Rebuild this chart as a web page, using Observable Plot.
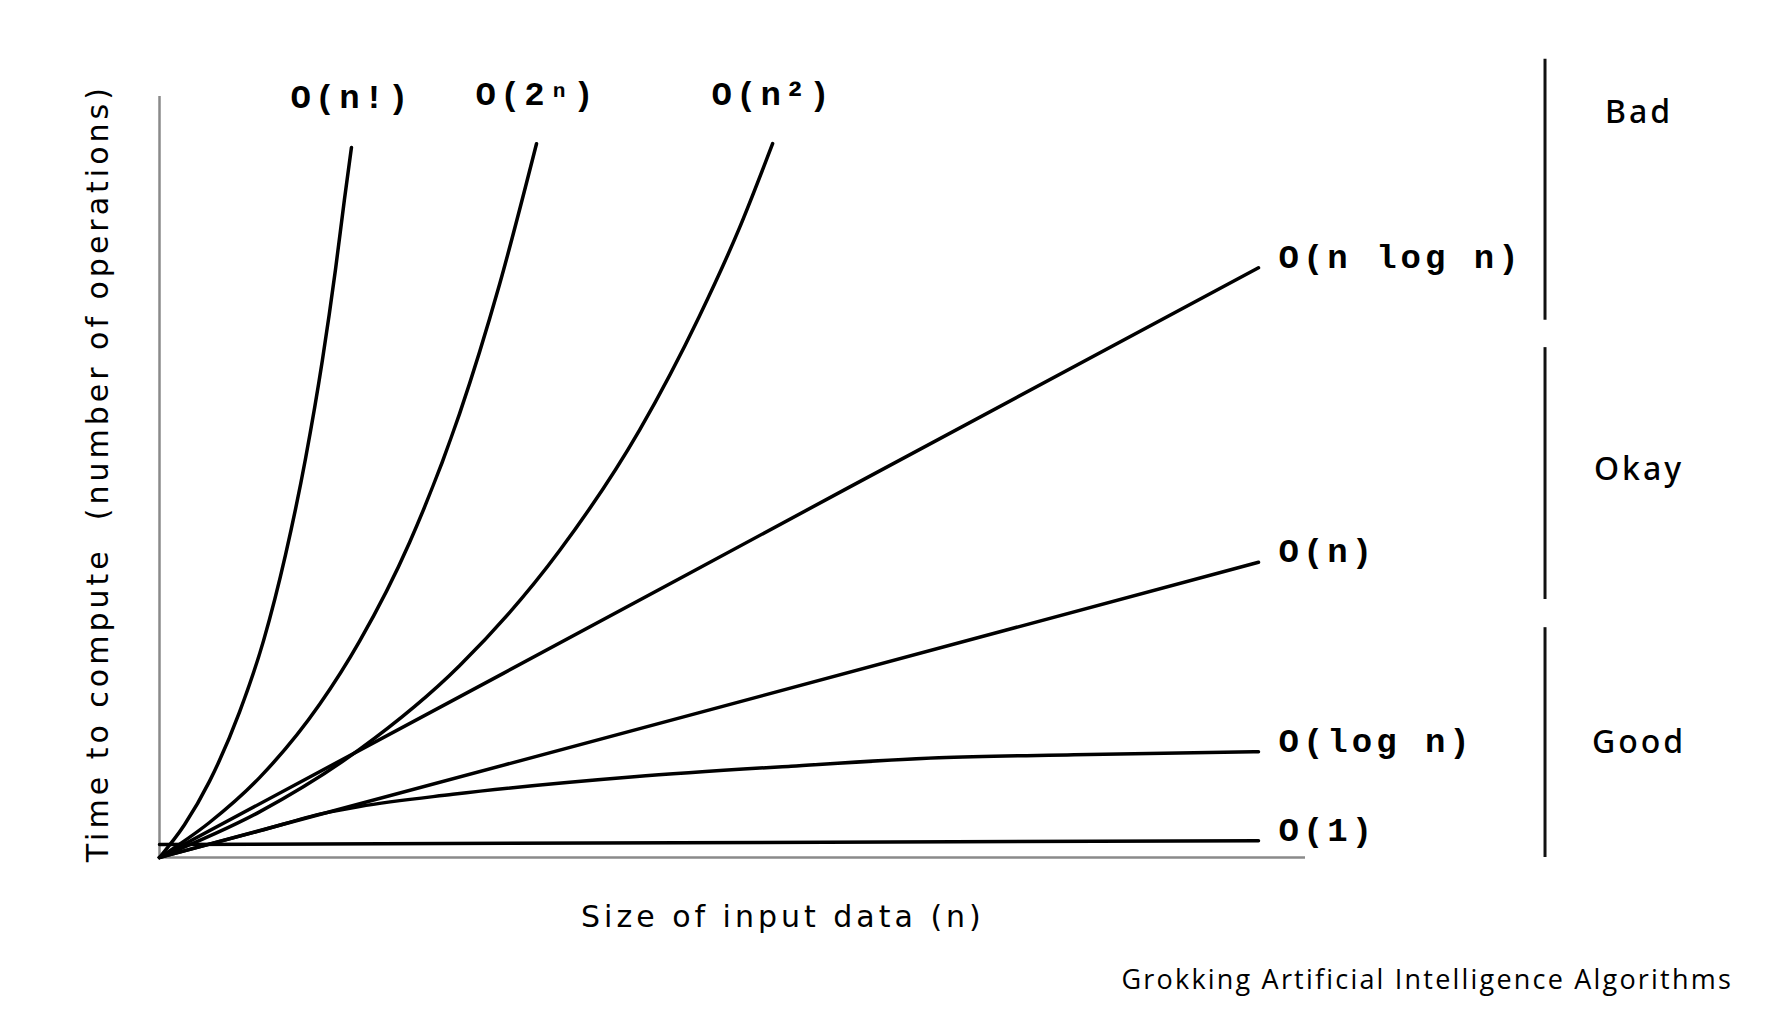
<!DOCTYPE html>
<html>
<head>
<meta charset="utf-8">
<script src="https://cdn.jsdelivr.net/npm/d3@7"></script>
<script src="https://cdn.jsdelivr.net/npm/@observablehq/plot@0.6"></script>
<style>
  html, body { margin: 0; padding: 0; background: #fff; }
  #chart svg { display: block; }
</style>
</head>
<body>
<div id="chart"></div>
<script>
// ---- data (x: size of input, y: operations; arbitrary units 0–100) ----
const factN = [0, 2.18, 4.36, 6.98, 9.08, 11.0, 12.74, 14.22, 15.36, 16.14, 16.75];
const factT = [0, 4.3, 10.0, 19.1, 28.5, 39.8, 52.4, 65.4, 77.3, 86.5, 93.3];

const expN = [0, 4.36, 8.73, 13.96, 17.45, 21.82, 26.18, 29.67, 32.9];
const expT = [0, 4.6, 10.5, 20.1, 28.4, 41.4, 58.3, 75.3, 93.8];

const quadN = [0, 8.73, 17.45, 26.18, 34.9, 41.9, 47.1, 50.6, 53.5];
const quadT = [0, 6.0, 14.2, 25.2, 40.3, 56.2, 71.1, 82.7, 93.8];

const nlognN = [0, 30, 60, 95.9];
const nlognT = [0, 24.2, 48.5, 77.5];

const linN = [0, 48, 95.9];
const linT = [0, 19.4, 38.8];

const logN = [0, 8.73, 14.3, 17.45, 25.6, 41.4, 55.1, 68.0, 79.8, 95.9];
const logT = [0, 3.5, 5.8, 6.7, 8.3, 10.6, 12.0, 13.1, 13.5, 13.9];

const constN = [0, 95.9];
const constT = [1.7, 2.2];

const topNames = ["O(n!)", "O(2ⁿ)", "O(n²)"];
const rightNames = ["O(n log n)", "O(n)", "O(log n)", "O(1)"];

const groups = ["Bad", "Okay", "Good"];
const groupX = 120.9;            // bracket position on the x scale
const groupStart = [104.9, 67.0, 30.2];
const groupEnd = [70.6, 33.9, 0];
const groupLabelY = [97.9, 51.0, 15.1];

const xTitle = "Size of input data (n)";
const yTitle = "Time to compute  (number of operations)";
const credit = "Grokking Artificial Intelligence Algorithms";

// ---- build tables ----
const toRows = (name, xs, ys) => xs.map((x, i) => ({name, x, y: ys[i]}));
const topSeries = [
  toRows(topNames[0], factN, factT),
  toRows(topNames[1], expN, expT),
  toRows(topNames[2], quadN, quadT)
];
const rightSeries = [
  toRows(rightNames[0], nlognN, nlognT),
  toRows(rightNames[1], linN, linT),
  toRows(rightNames[2], logN, logT),
  toRows(rightNames[3], constN, constT)
];
const allRows = [...topSeries, ...rightSeries].flat();
const topEnds = topSeries.map(s => s[s.length - 1]);
const rightEnds = rightSeries.map(s => s[s.length - 1]);
const brackets = groups.map((g, i) => ({g, x: groupX, y1: groupStart[i], y2: groupEnd[i], ly: groupLabelY[i]}));

const mono = "'Liberation Mono', 'DejaVu Sans Mono', monospace";
const hand = "'DejaVu Sans', 'Noto Sans', sans-serif";
const handB = "'Noto Sans', 'DejaVu Sans', sans-serif";
const handC = "'Open Sans', 'DejaVu Sans', sans-serif";

const chart = Plot.plot({
  width: 1771,
  height: 1026,
  marginLeft: 159,
  marginRight: 466,
  marginTop: 96,
  marginBottom: 169,
  x: {domain: [0, 100], axis: null},
  y: {domain: [0, 100], axis: null},
  style: {background: "#fff"},
  marks: [
    // axes
    Plot.ruleX([0], {stroke: "#8a8a8a", strokeWidth: 2.5}),
    Plot.ruleY([0], {stroke: "#8a8a8a", strokeWidth: 2.5}),
    // complexity curves
    Plot.line(allRows, {x: "x", y: "y", z: "name", stroke: "#000", strokeWidth: 3.5, curve: "monotone-x"}),
    // labels
    Plot.text(topEnds, {x: "x", y: "y", text: "name", dy: -50, fontFamily: mono, fontSize: 34, fontWeight: 600, fill: "#000", textAnchor: "middle"}),
    Plot.text(rightEnds, {x: "x", y: "y", text: "name", dx: 20, dy: -11, fontFamily: mono, fontSize: 34, fontWeight: 600, fill: "#000", textAnchor: "start"}),
    // category brackets
    Plot.ruleX(brackets, {x: "x", y1: "y1", y2: "y2", stroke: "#111", strokeWidth: 3}),
    Plot.text(brackets, {x: "x", y: "ly", text: "g", dx: 94, fontFamily: handB, fontSize: 32, fontWeight: 500, fill: "#000", textAnchor: "middle"}),
    // axis titles & credit
    Plot.text([xTitle], {x: 54.4, y: -7.9, text: d => d, fontFamily: hand, fontSize: 30, fill: "#000", textAnchor: "middle"}),
    Plot.text([yTitle], {x: -5.3, y: 50.5, text: d => d, rotate: -90, fontFamily: hand, fontSize: 30, fill: "#000", textAnchor: "middle"}),
    Plot.text([credit], {x: 137.3, y: -16.2, text: d => d, fontFamily: handC, fontSize: 27, fill: "#000", textAnchor: "end"})
  ]
});

// letter spacing (styling only)
const spacing = [[mono, "4px"], [hand, "4px"], [handB, "3px"], [handC, "2.2px"]];
chart.querySelectorAll("g[font-family]").forEach(g => {
  const f = g.getAttribute("font-family");
  for (const [fam, ls] of spacing) if (f === fam) g.style.letterSpacing = ls;
});
document.getElementById("chart").append(chart);
</script>
</body>
</html>
